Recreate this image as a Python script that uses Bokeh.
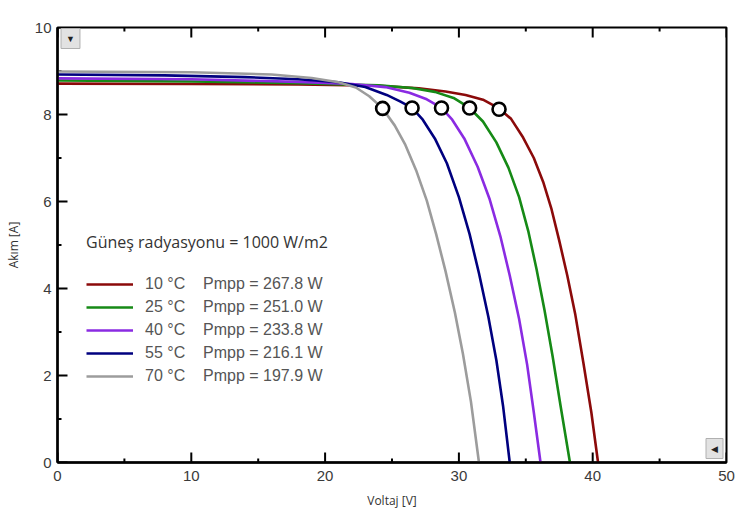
from bokeh.plotting import figure
from bokeh.models import Legend, LegendItem, Range1d, Label
from bokeh.embed import file_html
from bokeh.resources import INLINE

# ---- data ----
temps = ["10 °C", "25 °C", "40 °C", "55 °C", "70 °C"]
pmpp = [267.8, 251.0, 233.8, 216.1, 197.9]
colors = ["#8b0a0a", "#168a16", "#8a2be2", "#00007f", "#9c9c9c"]

v_10 = [0.0, 10.0, 18.0, 24.0, 27.0, 29.0, 30.5, 31.8, 33.0, 33.9, 34.8, 35.6, 36.3, 36.9, 37.5, 38.1, 38.7, 39.3, 39.9, 40.4]
i_10 = [8.71, 8.70, 8.69, 8.66, 8.60, 8.53, 8.45, 8.34, 8.14, 7.90, 7.47, 7.00, 6.45, 5.85, 5.10, 4.30, 3.40, 2.30, 1.15, 0.0]

v_25 = [0.0, 10.0, 18.0, 24.0, 26.5, 28.2, 29.6, 30.8, 31.8, 32.8, 33.7, 34.5, 35.2, 35.8, 36.4, 37.0, 37.6, 38.3]
i_25 = [8.78, 8.76, 8.72, 8.67, 8.61, 8.52, 8.38, 8.15, 7.84, 7.36, 6.78, 6.10, 5.30, 4.45, 3.50, 2.45, 1.30, 0.0]

v_40 = [0.0, 10.0, 18.0, 22.0, 24.5, 26.3, 27.6, 28.7, 29.5, 30.4, 31.4, 32.3, 33.1, 33.8, 34.5, 35.1, 35.6, 36.1]
i_40 = [8.83, 8.81, 8.75, 8.70, 8.63, 8.50, 8.35, 8.15, 7.88, 7.45, 6.80, 6.05, 5.20, 4.30, 3.30, 2.25, 1.15, 0.0]

v_55 = [0.0, 8.0, 14.0, 18.0, 21.0, 23.0, 24.6, 25.6, 26.5, 27.3, 28.2, 29.1, 30.0, 30.8, 31.5, 32.2, 32.8, 33.3, 33.8]
i_55 = [8.92, 8.90, 8.86, 8.81, 8.74, 8.63, 8.45, 8.30, 8.15, 7.88, 7.45, 6.88, 6.10, 5.25, 4.35, 3.35, 2.35, 1.30, 0.0]

v_70 = [0.0, 10.0, 16.0, 19.0, 21.0, 22.3, 23.3, 24.3, 25.2, 26.0, 26.8, 27.6, 28.3, 29.0, 29.7, 30.3, 30.9, 31.5]
i_70 = [8.99, 8.97, 8.92, 8.84, 8.74, 8.62, 8.42, 8.14, 7.75, 7.30, 6.72, 6.02, 5.25, 4.40, 3.45, 2.50, 1.40, 0.0]

mpp_v = [33.0, 30.8, 28.7, 26.5, 24.3]
mpp_i = [8.12, 8.15, 8.15, 8.15, 8.14]

x_ticks = [0, 10, 20, 30, 40, 50]
y_ticks = [0, 2, 4, 6, 8, 10]

series_v = [v_10, v_25, v_40, v_55, v_70]
series_i = [i_10, i_25, i_40, i_55, i_70]

W, H = 736, 512
ML, MR, MT, MB = 57, 10, 27, 50
X0, X1, Y0, Y1 = 0, 50, 0, 10

p = figure(width=W, height=H, x_range=Range1d(X0, X1), y_range=Range1d(Y0, Y1),
           output_backend="svg", toolbar_location=None,
           min_border_left=ML, min_border_right=MR, min_border_top=MT, min_border_bottom=MB)
p.background_fill_color = "white"
p.border_fill_color = "white"
p.outline_line_color = "black"
p.outline_line_width = 2
p.xgrid.visible = False
p.ygrid.visible = False

tick_font = "Liberation Sans"
for ax in (p.xaxis[0], p.yaxis[0]):
    ax.axis_line_width = 2.5
    ax.axis_line_color = "black"
    ax.major_tick_in = 0
    ax.major_tick_out = 0
    ax.minor_tick_in = 0
    ax.minor_tick_out = 0
    ax.major_label_text_font = tick_font
    ax.major_label_text_font_size = "15px"
    ax.major_label_text_color = "#3a3a3a"
    ax.axis_label_text_font = "Open Sans"
    ax.axis_label_text_font_size = "12px"
    ax.axis_label_text_font_style = "normal"
    ax.axis_label_text_color = "#333333"

p.xaxis[0].ticker = x_ticks
p.yaxis[0].ticker = y_ticks
p.xaxis[0].axis_label = "Voltaj [V]"
p.yaxis[0].axis_label = "Akım [A]"
p.xaxis[0].major_label_standoff = 8
p.yaxis[0].major_label_standoff = 6
p.xaxis[0].axis_label_standoff = 8
p.yaxis[0].axis_label_standoff = 10

# inward ticks drawn from the tick lists through the plot's scales
px_per_x = (W - ML - MR) / (X1 - X0)
px_per_y = (H - MT - MB) / (Y1 - Y0)
maj_len, min_len = 10, 4
x_minor = [(a + b) / 2 for a, b in zip(x_ticks[:-1], x_ticks[1:])]
y_minor = [(a + b) / 2 for a, b in zip(y_ticks[:-1], y_ticks[1:])]
tick_style = dict(line_color="black", line_width=2)
for ticks, ln in ((x_ticks, maj_len), (x_minor, min_len)):
    d = ln / px_per_y
    p.segment(x0=ticks, y0=[Y0] * len(ticks), x1=ticks, y1=[Y0 + d] * len(ticks), **tick_style)
    p.segment(x0=ticks, y0=[Y1] * len(ticks), x1=ticks, y1=[Y1 - d] * len(ticks), **tick_style)
for ticks, ln in ((y_ticks, maj_len), (y_minor, min_len)):
    d = ln / px_per_x
    p.segment(x0=[X0] * len(ticks), y0=ticks, x1=[X0 + d] * len(ticks), y1=ticks, **tick_style)

renderers = []
for v, i, c in zip(series_v, series_i, colors):
    r = p.line(v, i, line_color=c, line_width=2.6, line_join="round")
    renderers.append(r)

p.scatter(mpp_v, mpp_i, size=13, marker="circle", fill_color="white",
          line_color="black", line_width=2.6)

nb = "\u00a0" * 4
items = [LegendItem(label=f"{t}{nb}Pmpp = {w:.1f} W", renderers=[r])
         for t, w, r in zip(temps, pmpp, renderers)]
legend = Legend(items=items, location=(29, 75), padding=0, margin=0,
                spacing=0, label_height=23, glyph_height=16, glyph_width=47,
                label_standoff=12, border_line_alpha=0, background_fill_alpha=0,
                label_text_font=tick_font, label_text_font_size="16px",
                label_text_color="#555555",
                title="Güneş radyasyonu = 1000 W/m2", title_text_font="Open Sans",
                title_text_font_size="16px", title_text_font_style="normal",
                title_text_color="#333333", title_standoff=19)
p.add_layout(legend, "center")

# scroll button decorations of the original application (inside the frame)
btn = dict(x_units="canvas", y_units="canvas", text_font_size="9px",
           text_color="#222222", background_fill_color="#e2e2e2",
           border_line_color="#b0b0b0", padding=5, text_align="center",
           text_baseline="middle", text_font=tick_font)
p.add_layout(Label(x=70, y=38, text="▼", **btn))
p.add_layout(Label(x=714, y=448, text="◀", **btn))

open("out.html", "w").write(file_html(p, INLINE))
